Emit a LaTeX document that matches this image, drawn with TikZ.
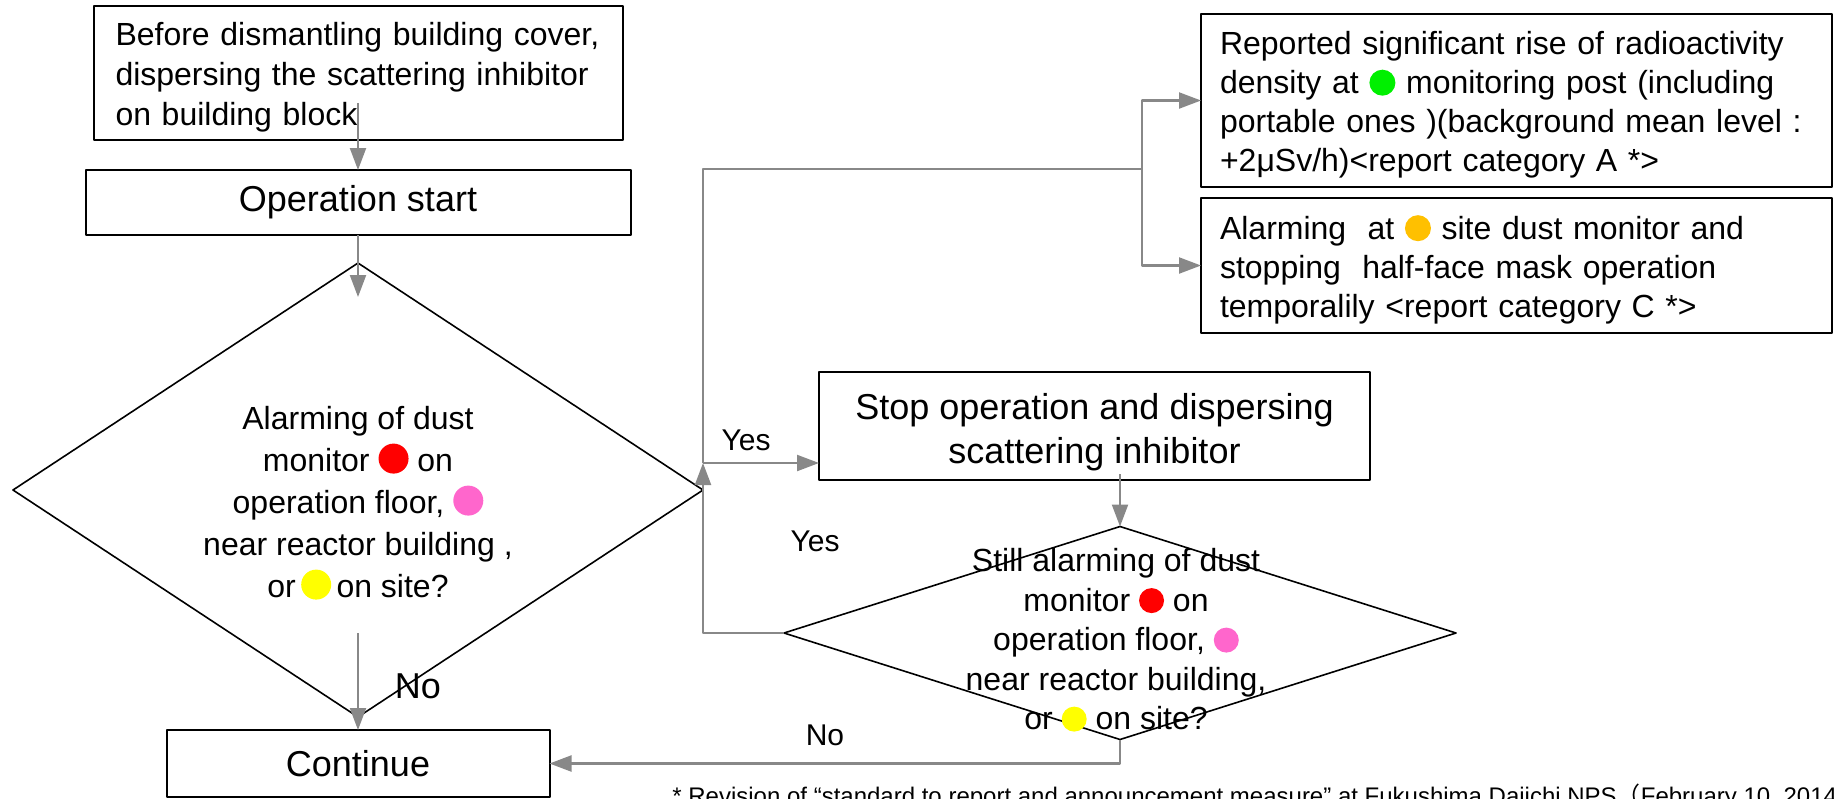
\documentclass[tikz,border=0pt]{standalone}
\usepackage{fontspec}
\setmainfont{Liberation Sans}
\newfontfamily\cjkfont{Noto Sans CJK JP}
\usetikzlibrary{arrows.meta,shapes.geometric}
\definecolor{flowgray}{HTML}{888888}
\definecolor{dotred}{HTML}{FF0000}
\definecolor{dotpink}{HTML}{FF66CC}
\definecolor{dotyellow}{HTML}{FFFF00}
\definecolor{dotgreen}{HTML}{00F000}
\definecolor{dotorange}{HTML}{FFC000}
\newcommand{\mdot}[2][7.5pt]{\tikz[baseline=0pt]\fill[#2] (0pt,#1-1pt) circle[radius=#1];}
\newcommand{\topgap}[1][16pt]{\rule{0pt}{#1}}
\begin{document}
\begin{tikzpicture}[x=0.5pt, y=-0.5pt, line join=round,
    box/.style={draw, line width=1pt, outer sep=0pt, align=center, font=\fontsize{18}{22}\selectfont},
    txtbox/.style={draw, line width=1pt, outer sep=0pt, align=left, inner xsep=9.5pt, text width=296.5pt, minimum width=315.5pt, font=\fontsize{16}{19.5}\selectfont},
    decision/.style={diamond, draw, line width=0.8pt, inner sep=0pt, outer sep=0pt},
    dtext/.style={align=center, inner sep=0pt},
    lbl/.style={font=\fontsize{15}{18}\selectfont},
    line/.style={draw=flowgray, line width=1.1pt},
    arr/.style={line, -{Triangle[length=11pt,width=8pt]}}]
    \useasboundingbox (0,0) rectangle (1834,798);

    \node[txtbox, text width=242.5pt, inner xsep=11pt, minimum width=264.5pt, minimum height=67pt, font=\fontsize{16}{20}\selectfont] (cover) at (358,73)
        {\topgap Before dismantling building cover,\\dispersing the scattering inhibitor\\on building block};
    \node[box, minimum width=272.5pt, minimum height=32.5pt] (start) at (358,202.5) {Operation start};
    \node[decision, minimum width=345pt, minimum height=227pt] (alarm) at (358,490) {};
    \node[dtext, font=\fontsize{16}{21}\selectfont] (alarmtxt) at (358,503)
        {Alarming of dust\\monitor \mdot{dotred} on\\operation floor, \mdot{dotpink}\\near reactor building ,\\or\,\mdot{dotyellow}\,on site?};
    \node[box, minimum width=191.5pt, minimum height=33.5pt] (cont) at (358,763.5) {Continue};
    \node[box, minimum width=275.5pt, minimum height=54pt] (stop) at (1094.5,426) {\topgap[19pt]Stop operation and dispersing\\scattering inhibitor};
    \node[decision, minimum width=336pt, minimum height=106.5pt] (still) at (1120,633) {};
    \node[dtext, font=\fontsize{16}{19.75}\selectfont] (stilltxt) at (1116,640)
        {Still alarming of dust\\monitor \mdot[6.25pt]{dotred} on\\operation floor, \mdot[6.25pt]{dotpink}\\near reactor building,\\or \mdot[6.25pt]{dotyellow} on site?};
    \node[txtbox, minimum height=86.5pt] (repA) at (1516.5,100.5)
        {\topgap Reported significant rise of radioactivity\\density at \mdot[6.5pt]{dotgreen} monitoring post (including\\portable ones )(background mean level :\\+2μSv/h)<report category A *>};
    \node[txtbox, minimum height=67.5pt] (repC) at (1516.5,265.5)
        {\topgap Alarming\ \ at \mdot[6.5pt]{dotorange} site dust monitor and\\stopping\ \ half-face mask operation\\temporalily <report category C *>};

    \path
    (703,463) coordinate (yesj)
    (1142,169) coordinate (split);

    \draw[arr] ([yshift=18.5pt]cover.south) -- (start.north);
    \draw[arr] (start.south) -- ([yshift=-17pt]alarm.north);
    \draw[arr] ([yshift=42pt]alarm.south) -- (cont.north);
    \draw[arr] (still.west) -| (yesj);
    \draw[arr] (yesj) -- (yesj -| stop.west);
    \draw[line] (yesj) |- (split);
    \draw[arr] (split) |- (repA.west);
    \draw[arr] (split) |- (repC.west);
    \draw[arr] ([yshift=3pt]stop.south -| still.north) -- (still.north);
    \draw[arr] (still.south) |- (cont.east);

    \foreach \name/\px/\py/\txt in {yesA/746/440/Yes, yesB/815/541/Yes, noB/825/735/No}
    \node[lbl] (\name) at (\px,\py) {\txt};
    \node[lbl, font=\fontsize{18}{22}\selectfont] (noA) at (418,686) {No};

    \node[anchor=base west, inner sep=0pt, font=\fontsize{12}{14}\selectfont] (note) at (672,804)
        {* Revision of “standard to report and announcement measure” at Fukushima Daiichi NPS{\cjkfont （}February 10, 2014{\cjkfont ）}};
\end{tikzpicture}
\end{document}
